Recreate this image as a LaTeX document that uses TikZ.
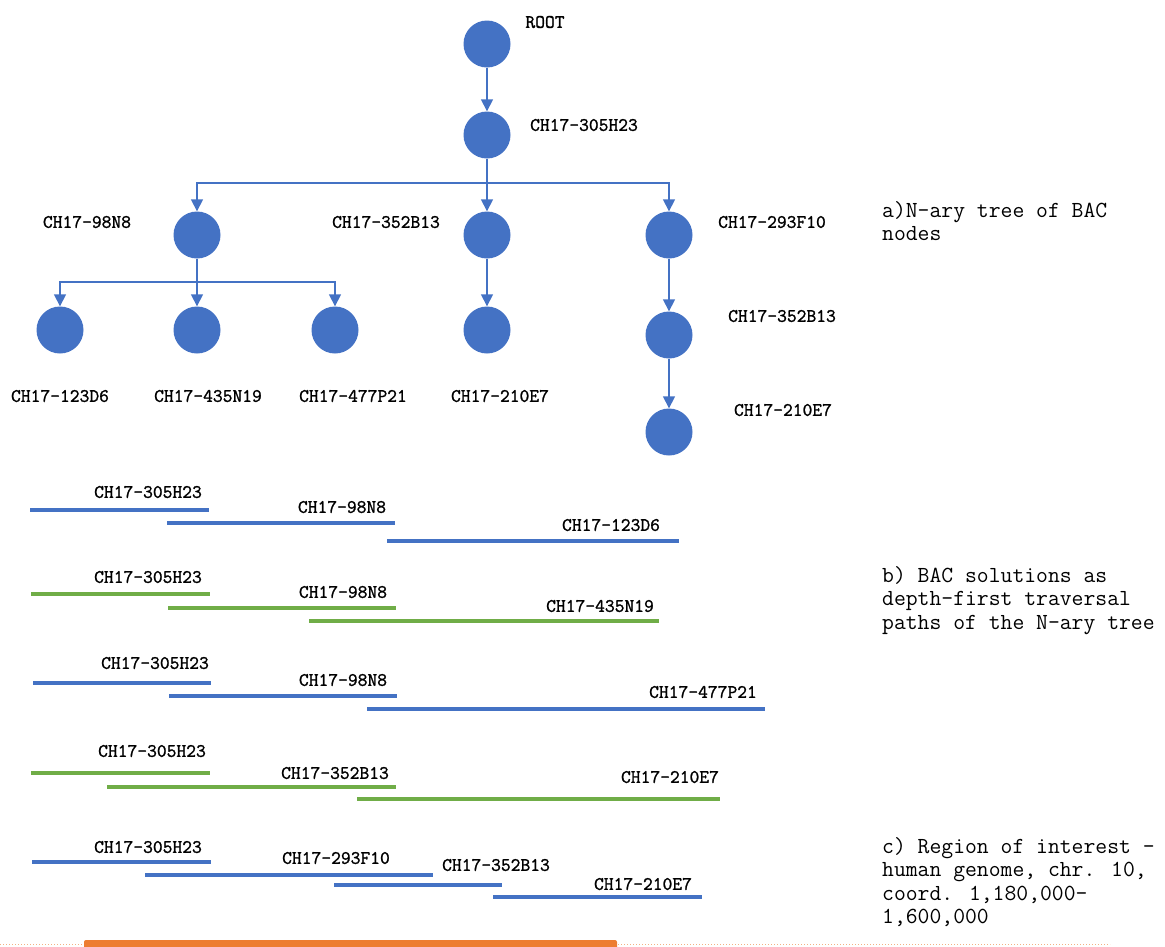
\documentclass[tikz,border=0pt]{standalone}
\usepackage{fontspec}
\newfontfamily\boldmono[FakeBold=1.3]{Latin Modern Mono}
\usetikzlibrary{arrows.meta}
\definecolor{cblue}{HTML}{4472C4}
\definecolor{cgreen}{HTML}{70AD47}
\definecolor{corange}{HTML}{ED7D31}
\definecolor{clorange}{HTML}{F4B183}
\begin{document}
\begin{tikzpicture}[x=1pt,y=-1pt,
  bac/.style={circle,fill=cblue,minimum size=47pt,inner sep=0pt},
  arr/.style={draw=cblue,line width=1.6pt,-{Triangle[width=12pt,length=12pt]}},
  tlab/.style={font=\boldmono\fontsize{19}{21}\selectfont,inner sep=0pt},
  blab/.style={font=\boldmono\fontsize{19}{21}\selectfont,inner sep=0pt},
  note/.style={font=\ttfamily\fontsize{23}{23.5}\selectfont,align=left,anchor=north west,inner sep=0pt},
  bbar/.style={draw=cblue,line width=3.5pt},
  gbar/.style={draw=cgreen,line width=3.5pt}]
\useasboundingbox (0,0) rectangle (1165,946);
% tree nodes
\node[bac] (root) at (487,44) {};
\node[bac] (n305) at (487,135) {};
\node[bac] (n98) at (197,235) {};
\node[bac] (n352) at (487,235) {};
\node[bac] (n293) at (669,235) {};
\node[bac] (n123) at (60,330) {};
\node[bac] (n435) at (197,330) {};
\node[bac] (n477) at (335,330) {};
\node[bac] (n210) at (487,330) {};
\node[bac] (n352b) at (669,335) {};
\node[bac] (n210b) at (669,432) {};
% tree labels
\node[tlab] (lroot) at (545,22) {ROOT};
\node[tlab] (l305) at (584,125) {CH17-305H23};
\node[tlab] (l98) at (87,222) {CH17-98N8};
\node[tlab] (l352) at (386,222) {CH17-352B13};
\node[tlab] (l293) at (772,222) {CH17-293F10};
\node[tlab] (l123) at (60,396) {CH17-123D6};
\node[tlab] (l435) at (208,396) {CH17-435N19};
\node[tlab] (l477) at (353,396) {CH17-477P21};
\node[tlab] (l210) at (500,396) {CH17-210E7};
\node[tlab] (l352b) at (782,316) {CH17-352B13};
\node[tlab] (l210b) at (783,410) {CH17-210E7};
% tree connectors
\draw[arr] (root) -- (n305);
\coordinate (b1) at (487,183);
\coordinate (b2) at (197,282);
\draw[arr] (n305.south) -- (b1) -| (n98.north);
\draw[arr] (b1) -- (n352.north);
\draw[arr] (b1) -| (n293.north);
\draw[arr] (n98.south) -- (b2) -| (n123.north);
\draw[arr] (b2) -- (n435.north);
\draw[arr] (b2) -| (n477.north);
\draw[arr] (n352) -- (n210);
\draw[arr] (n293) -- (n352b);
\draw[arr] (n352b) -- (n210b);
% notes
\node[note] (na) at (882,201) {a)N-ary tree of BAC\\nodes};
\node[note] (nb) at (882,566) {b) BAC solutions as\\depth-first traversal\\paths of the N-ary tree};
\node[note] (nc) at (882,837) {c) Region of interest -\\human genome, chr. 10,\\coord. 1,180,000-\\1,600,000};
% group 1
\node[blab] (g1a) at (148,492) {CH17-305H23};
\node[blab] (g1b) at (342,507) {CH17-98N8};
\node[blab] (g1c) at (611,525) {CH17-123D6};
\draw[bbar] (30,510) -- (209,510);
\draw[bbar] (167,523) -- (395,523);
\draw[bbar] (387,541) -- (679,541);
% group 2
\node[blab] (g2a) at (148,577) {CH17-305H23};
\node[blab] (g2b) at (343,592) {CH17-98N8};
\node[blab] (g2c) at (600,606) {CH17-435N19};
\draw[gbar] (31,594) -- (210,594);
\draw[gbar] (168,608) -- (396,608);
\draw[gbar] (309,621) -- (659,621);
% group 3
\node[blab] (g3a) at (155,663) {CH17-305H23};
\node[blab] (g3b) at (343,680) {CH17-98N8};
\node[blab] (g3c) at (703,692) {CH17-477P21};
\draw[bbar] (33,683) -- (211,683);
\draw[bbar] (169,696) -- (397,696);
\draw[bbar] (367,709) -- (765,709);
% group 4
\node[blab] (g4a) at (152,751) {CH17-305H23};
\node[blab] (g4b) at (335,773) {CH17-352B13};
\node[blab] (g4c) at (670,777) {CH17-210E7};
\draw[gbar] (31,773) -- (210,773);
\draw[gbar] (107,787) -- (396,787);
\draw[gbar] (357,799) -- (720,799);
% group 5
\node[blab] (g5a) at (148,847) {CH17-305H23};
\node[blab] (g5b) at (336,858) {CH17-293F10};
\node[blab] (g5c) at (496,865) {CH17-352B13};
\node[blab] (g5d) at (643,884) {CH17-210E7};
\draw[bbar] (32,862) -- (211,862);
\draw[bbar] (145,875) -- (433,875);
\draw[bbar] (334,885) -- (502,885);
\draw[bbar] (493,897) -- (702,897);
% bottom
\draw[clorange,line width=1pt,dotted] (0,944) -- (1110,944);
\fill[corange,rounded corners=2pt] (84,940) rectangle (617,952);
\end{tikzpicture}
\end{document}
